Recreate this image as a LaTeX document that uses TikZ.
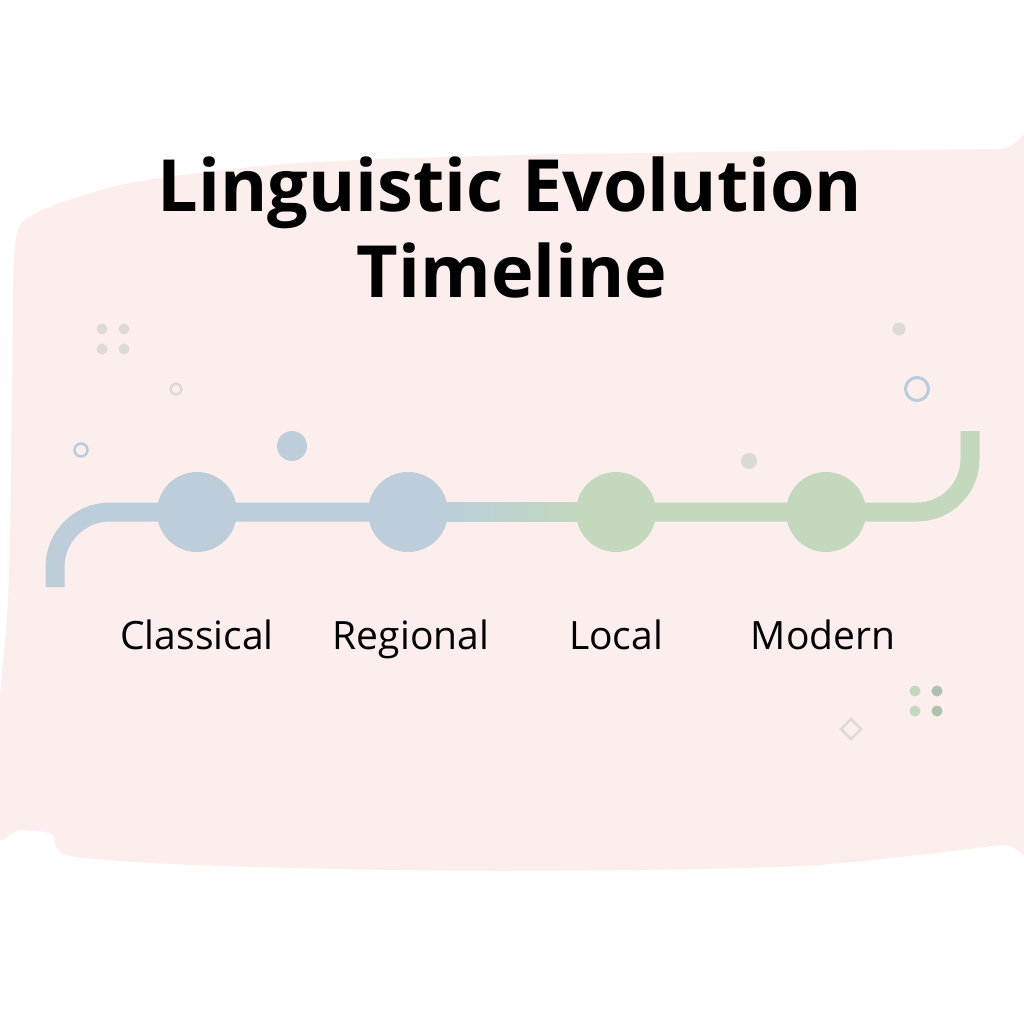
\documentclass[tikz,border=0pt]{standalone}
\usepackage{fontspec}
\setmainfont{Open Sans}
\usetikzlibrary{calc,backgrounds}
\definecolor{wash}{HTML}{FCEEEC}
\definecolor{bluegray}{HTML}{BDCDDA}
\definecolor{sage}{HTML}{C3D8BD}
\definecolor{pebble}{HTML}{DEDAD6}
\definecolor{ringblue}{HTML}{B9CCDB}
\pgfdeclarelayer{track}
\pgfsetlayers{background,track,main}
\tikzset{
  stage/.style={circle,fill=#1,minimum size=80pt,inner sep=0pt},
  era/.style={font=\fontsize{39}{46}\selectfont,anchor=base},
  headline/.style={font=\fontsize{72}{86}\selectfont\bfseries,anchor=base},
  track/.style={line width=19pt},
}
\begin{document}
\begin{tikzpicture}[x=1pt,y=-1pt]
    \useasboundingbox (0,0) rectangle (1024,1024);
    % white page and wash behind everything
    \begin{pgfonlayer}{background}
    \fill[white] (0,0) rectangle (1024,1024);
    \fill[wash] plot[smooth cycle,tension=0.45] coordinates {(15,245) (38,212) (135,182) (300,163) (520,155) (800,151) (1000,149)
        (1060,148) (1060,833) (1000,845) (800,866) (500,871) (220,866) (70,856) (52,834) (20,830) (-10,828) (8,600) (12,400)};
    \end{pgfonlayer}
    \node[headline] (title1) at (510,212) {Linguistic Evolution};
    \node[headline] (title2) at (512,297) {Timeline};
    \node[stage=bluegray] (classical) at (197,512) {};
    \node[stage=bluegray] (regional) at (408,512) {};
    \node[stage=sage] (local) at (616,512) {};
    \node[stage=sage] (modern) at (826,512) {};
    \coordinate (tstart) at (55,587);
    \coordinate (tend) at (970,431);
    \begin{pgfonlayer}{track}
    \draw[track,bluegray,rounded corners=55pt] (tstart) |- (regional.east);
    \shade[left color=bluegray,right color=sage] ($(regional.east)+(-2,-9.5)$) rectangle ($(local.west)+(2,9.5)$);
    \draw[track,sage,rounded corners=53pt] (local.west) -| (tend);
    \end{pgfonlayer}
    \node[era] (lclassical) at (197,649) {Classical};
    \node[era] (lregional) at (411,649) {Regional};
    \node[era] (llocal) at (616,649) {Local};
    \node[era] (lmodern) at (823,649) {Modern};
    % small marks
    \foreach \x in {102,124} \foreach \y in {329,349} \fill[pebble] (\x,\y) circle (5.5pt);
    \draw[pebble,line width=2.5pt] (176,389) circle (5.5pt);
    \draw[ringblue,line width=2.5pt] (81,450) circle (6.5pt);
    \fill[bluegray] (292,446) circle (15pt);
    \fill[pebble] (899,329) circle (6.5pt);
    \draw[ringblue,line width=3pt] (917,389) circle (11.5pt);
    \fill[pebble!90!sage] (749,461) circle (8pt);
    \foreach \y in {691,711} {
      \fill[sage] (915,\y) circle (5.5pt);
      \fill[sage!85!ringblue!90!black] (937,\y) circle (5.5pt);
    }
    \draw[pebble,line width=2.5pt] (851,719) -- (861,729) -- (851,739) -- (841,729) -- cycle;
\end{tikzpicture}
\end{document}
